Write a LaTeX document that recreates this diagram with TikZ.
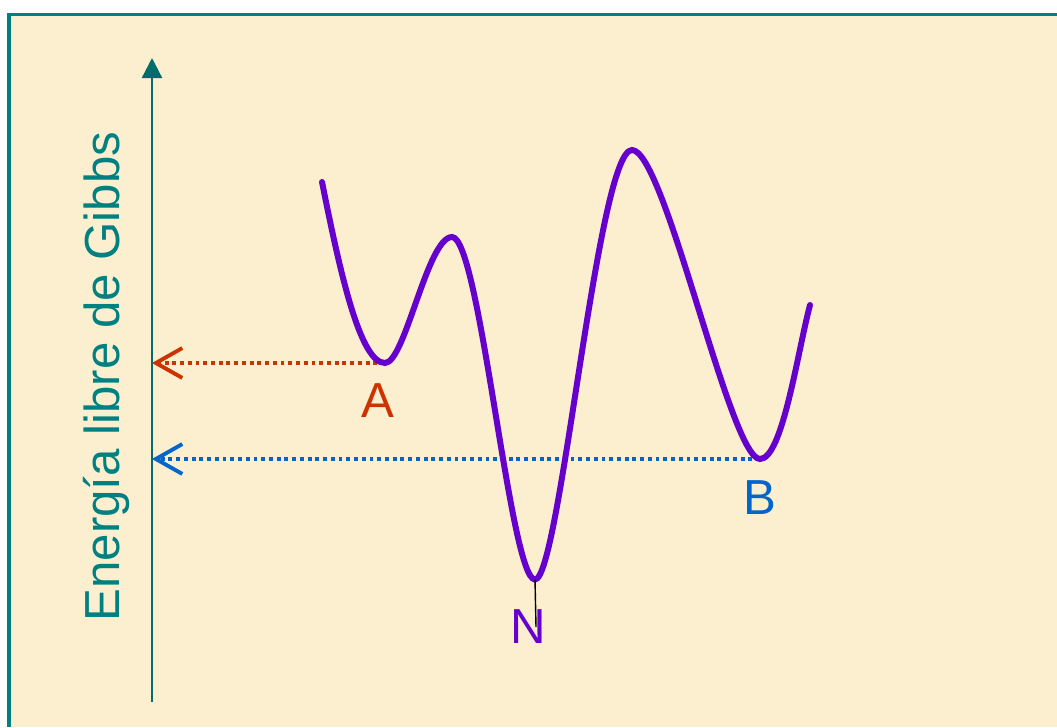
\documentclass[tikz,border=0pt]{standalone}
\usepackage{fontspec}
\setmainfont{Liberation Sans}
\usepackage{xcolor}
\usepackage{tikz}
\usetikzlibrary{calc,arrows.meta,positioning}
\definecolor{gibbsTeal}{RGB}{0,128,128}
\definecolor{gibbsTealDark}{RGB}{0,108,108}
\definecolor{gibbsPurple}{RGB}{102,0,204}
\definecolor{gibbsRed}{RGB}{204,51,0}
\definecolor{gibbsBlue}{RGB}{0,102,204}
\definecolor{gibbsBeige}{RGB}{251,239,208}

\begin{document}
\begin{tikzpicture}[
  lbl/.style={font=\fontsize{28}{32}\selectfont, inner sep=0pt},
  levelline/.style={line width=2.2pt, dash pattern=on 2.2pt off 2.2pt,
    -{Straight Barb[length=15pt,width=17pt]}}
]
\useasboundingbox (0,0) rectangle (21.14,14.54);
\fill[gibbsBeige] (0.18,0) rectangle (21.14,14.25);
\draw[gibbsTeal, line width=2.2pt] (0.18,0)--(0.18,14.25)--(21.14,14.25);

% energy axis
\coordinate (ax0) at (3.04,0.50);
\coordinate (ax1) at (3.04,13.38);
\draw[gibbsTealDark, line width=1.3pt, -{Triangle[length=11.4pt,width=11.4pt]}] (ax0)--(ax1);
\node[lbl, text=gibbsTeal, rotate=90, anchor=base] (ylab) at (2.38,7.01) {Energía libre de Gibbs};

% minima and maxima of the profile
\coordinate (start) at (6.44,10.90);
\coordinate (minA) at (7.70,7.28);
\coordinate (max1) at (9.04,9.80);
\coordinate (minN) at (10.70,2.95);
\coordinate (max2) at (12.64,11.54);
\coordinate (minB) at (15.20,5.36);
\coordinate (stop) at (16.20,8.44);

\draw[levelline, gibbsRed] (minA)--(minA -| ax0);
\draw[levelline, gibbsBlue] (minB)--(minB -| ax0);

\draw[gibbsPurple, line width=3.4pt, line cap=round]
(start) .. controls (6.80,9.10) and (7.20,7.28) .. (minA)
        .. controls (8.10,7.28) and (8.55,9.80) .. (max1)
        .. controls (9.60,9.80) and (10.20,2.95) .. (minN)
        .. controls (11.20,2.95) and (11.95,11.54) .. (max2)
        .. controls (13.30,11.54) and (14.60,5.36) .. (minB)
        .. controls (15.65,5.36) and (15.95,7.50) .. (stop);

\node[lbl, text=gibbsRed] (labA) at (7.56,6.52) {A};
\node[lbl, text=gibbsBlue] (labB) at (15.19,4.58) {B};
\node[lbl, text=gibbsPurple] (labN) at (10.56,2.00) {N};
\coordinate (Ntick) at (10.72,2.00);
\draw[black, line width=0.8pt] (minN)--(Ntick);
\end{tikzpicture}
\end{document}
